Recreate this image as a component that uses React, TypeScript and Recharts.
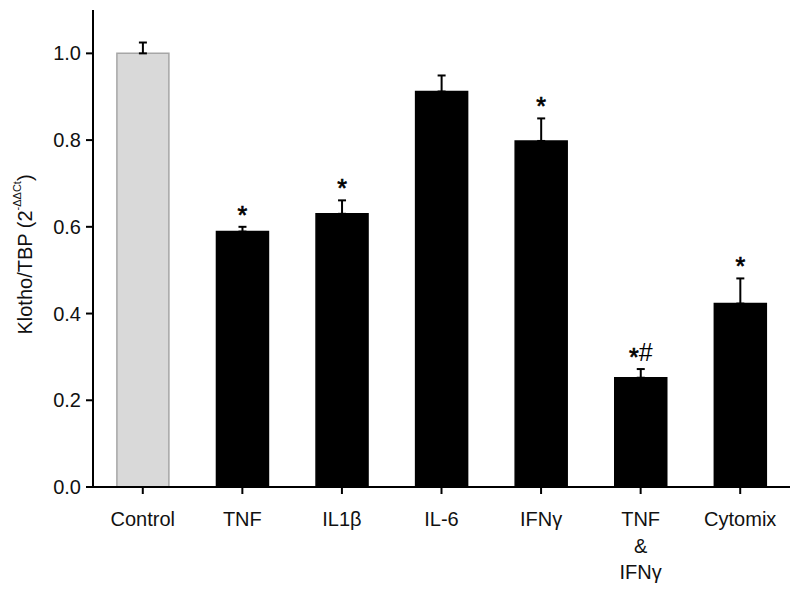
import { BarChart, Bar, XAxis, YAxis, ErrorBar, LabelList, Cell } from "recharts";

const categories = ["Control", "TNF", "IL1β", "IL-6", "IFNγ", "TNF\n&\nIFNγ", "Cytomix"];
const means = [1.0, 0.589, 0.63, 0.912, 0.798, 0.252, 0.423];
const sem = [0.025, 0.011, 0.031, 0.037, 0.052, 0.02, 0.058];
const marks = ["", "*", "*", "", "*", "*#", "*"];
const yTicks = [0, 0.2, 0.4, 0.6, 0.8, 1.0];

const data = categories.map((name, i) => ({
  name,
  value: means[i],
  err: [0, sem[i]],
}));

const FONT = "'Liberation Sans', Arial, sans-serif";

function XTick({ x, y, payload }: any) {
  const lines = String(payload.value).split("\n");
  return (
    <text x={x} y={y + 30} textAnchor="middle" fontFamily={FONT} fontSize={20} fill="#111">
      {lines.map((l, i) => (
        <tspan key={i} x={x} dy={i === 0 ? 0 : 26.5}>
          {l}
        </tspan>
      ))}
    </text>
  );
}

function Mark({ x, y, width, height, index }: any) {
  const m = marks[index];
  if (!m) return null;
  const pxPerUnit = height / means[index];
  const top = y - sem[index] * pxPerUnit;
  // asterisks are nudged down so they sit centred like the # beside them
  let shift = 0;
  return (
    <text x={x + width / 2} y={top - 8} textAnchor="middle" fontFamily={FONT} fontSize={25} fill="#000">
      {m.split("").map((ch, i) => {
        const star = ch === "*";
        const want = star ? 5 : 0;
        const dy = want - shift;
        shift = want;
        return (
          <tspan key={i} dy={dy} stroke={star ? "#000" : "none"} strokeWidth={star ? 0.7 : 0}>
            {ch}
          </tspan>
        );
      })}
    </text>
  );
}

function YLabel({ viewBox }: any) {
  const cx = 25;
  const cy = viewBox.y + viewBox.height / 2 + 6;
  return (
    <text x={cx} y={cy} transform={`rotate(-90 ${cx} ${cy})`} textAnchor="middle" dominantBaseline="central" fontFamily={FONT} fontSize={20} fill="#111">
      Klotho/TBP (2
      <tspan dy={-8} fontSize={11}>-ΔΔCt</tspan>
      <tspan dy={8}>)</tspan>
    </text>
  );
}

export default function App() {
  return (
    <div style={{ position: "absolute", left: 0, top: 0, width: 800, height: 593, background: "#fff" }}>
      <BarChart width={800} height={593} data={data} margin={{ top: 10, right: 10, left: 0, bottom: 6 }} barCategoryGap="24%">
        <XAxis
          dataKey="name"
          interval={0}
          height={100}
          tick={<XTick />}
          tickSize={7}
          axisLine={{ stroke: "#000", strokeWidth: 2 }}
          tickLine={{ stroke: "#000", strokeWidth: 2 }}
        />
        <YAxis
          width={93}
          domain={[0, 1.1]}
          ticks={yTicks}
          tickFormatter={(v: number) => v.toFixed(1)}
          tickSize={7}
          tickMargin={5}
          tick={{ fontSize: 20, fill: "#111", fontFamily: FONT }}
          axisLine={{ stroke: "#000", strokeWidth: 2 }}
          tickLine={{ stroke: "#000", strokeWidth: 2 }}
          label={<YLabel />}
        />
        <Bar dataKey="value" isAnimationActive={false}>
          {data.map((d, i) => (
            <Cell key={i} fill={i === 0 ? "#d9d9d9" : "#000"} stroke={i === 0 ? "#a6a6a6" : "#000"} strokeWidth={1.5} />
          ))}
          <ErrorBar dataKey="err" direction="y" width={4} stroke="#000" strokeWidth={2} isAnimationActive={false} />
          <LabelList dataKey="value" content={<Mark />} />
        </Bar>
      </BarChart>
    </div>
  );
}
